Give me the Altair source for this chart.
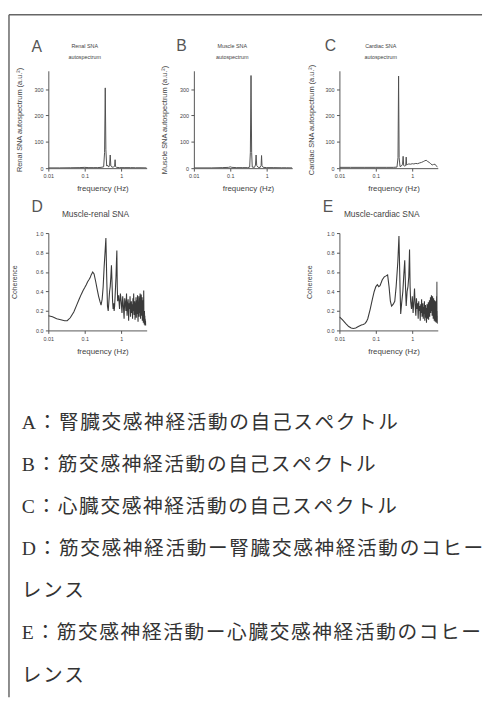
import altair as alt
import pandas as pd

# ---------------- data ----------------
renal_spec = [(0.01, 1), (0.02, 1), (0.04, 1.5), (0.07, 2), (0.1, 3), (0.13, 2), (0.17, 2),
              (0.22, 2), (0.28, 3), (0.33, 5), (0.35, 60), (0.365, 305), (0.38, 70), (0.40, 8),
              (0.42, 12), (0.45, 4), (0.48, 10), (0.50, 50), (0.52, 8), (0.56, 4), (0.62, 4),
              (0.66, 8), (0.68, 32), (0.70, 6), (0.75, 3), (0.9, 2), (1.2, 2), (1.8, 2),
              (2.5, 1.5), (3.5, 1.5), (5.0, 1)]

muscle_spec = [(0.01, 1), (0.03, 1), (0.06, 2), (0.09, 3), (0.1, 5), (0.11, 3), (0.15, 2),
               (0.22, 2), (0.30, 2), (0.34, 4), (0.355, 60), (0.37, 352), (0.385, 60), (0.40, 4),
               (0.46, 3), (0.49, 12), (0.51, 50), (0.53, 10), (0.58, 3), (0.66, 3), (0.70, 10),
               (0.72, 48), (0.74, 10), (0.80, 3), (1.0, 2), (1.5, 2), (2.5, 1.5), (3.5, 1.5), (5.0, 1)]

cardiac_spec = [(0.01, 3), (0.02, 3), (0.05, 3), (0.1, 3), (0.2, 3), (0.3, 3), (0.38, 4),
                (0.405, 40), (0.42, 350), (0.435, 40), (0.46, 6), (0.5, 8), (0.54, 15), (0.56, 45),
                (0.58, 10), (0.62, 8), (0.66, 10), (0.68, 42), (0.70, 12), (0.74, 14), (0.8, 16),
                (0.9, 15), (1.0, 17), (1.1, 16), (1.25, 18), (1.4, 17), (1.6, 20), (1.8, 22),
                (2.0, 25), (2.2, 28), (2.4, 30), (2.6, 26), (2.9, 22), (3.2, 17), (3.5, 12),
                (3.8, 14), (4.2, 15), (4.6, 8), (5.0, 3)]

muscle_renal_coh = [
    (0.01, 0.15), (0.013, 0.14), (0.017, 0.12), (0.022, 0.11), (0.028, 0.10), (0.033, 0.10),
    (0.04, 0.13), (0.05, 0.19), (0.06, 0.26), (0.07, 0.32), (0.08, 0.37), (0.09, 0.41),
    (0.10, 0.44), (0.11, 0.47), (0.12, 0.50), (0.13, 0.52), (0.14, 0.54), (0.15, 0.57),
    (0.165, 0.60), (0.18, 0.58), (0.20, 0.50), (0.22, 0.42), (0.24, 0.35), (0.26, 0.30),
    (0.28, 0.26), (0.30, 0.32), (0.32, 0.45), (0.34, 0.65), (0.36, 0.80), (0.38, 0.95),
    (0.40, 0.55), (0.42, 0.25), (0.44, 0.20), (0.46, 0.30), (0.48, 0.40), (0.50, 0.45),
    (0.52, 0.55), (0.54, 0.67), (0.56, 0.50), (0.58, 0.30), (0.60, 0.22), (0.62, 0.28),
    (0.64, 0.20), (0.66, 0.25), (0.68, 0.35), (0.70, 0.45), (0.72, 0.55), (0.74, 0.70),
    (0.76, 0.82), (0.78, 0.45),
    (0.80, 0.30), (0.85, 0.36), (0.90, 0.22), (0.95, 0.38), (1.00, 0.30), (1.05, 0.18),
    (1.10, 0.35), (1.15, 0.25), (1.20, 0.12), (1.25, 0.33), (1.30, 0.28), (1.35, 0.20),
    (1.40, 0.38), (1.45, 0.15), (1.50, 0.26), (1.55, 0.32), (1.60, 0.10), (1.65, 0.28),
    (1.70, 0.22), (1.75, 0.35), (1.80, 0.14), (1.85, 0.25), (1.90, 0.30), (1.95, 0.18),
    (2.00, 0.27), (2.05, 0.12), (2.10, 0.33), (2.15, 0.20), (2.20, 0.38), (2.25, 0.16),
    (2.30, 0.24), (2.35, 0.30), (2.40, 0.11), (2.45, 0.28), (2.50, 0.19), (2.55, 0.34),
    (2.60, 0.13), (2.65, 0.26), (2.70, 0.31), (2.75, 0.17), (2.80, 0.36), (2.85, 0.21),
    (2.90, 0.09), (2.95, 0.29), (3.00, 0.24), (3.05, 0.35), (3.10, 0.14), (3.15, 0.27),
    (3.20, 0.33), (3.25, 0.18), (3.30, 0.38), (3.35, 0.22), (3.40, 0.12), (3.45, 0.30),
    (3.50, 0.25), (3.55, 0.37), (3.60, 0.15), (3.65, 0.28), (3.70, 0.20), (3.75, 0.34),
    (3.80, 0.10), (3.85, 0.26), (3.90, 0.31), (3.95, 0.16), (4.00, 0.24), (4.05, 0.08),
    (4.10, 0.22), (4.15, 0.41), (4.20, 0.12), (4.25, 0.18), (4.30, 0.06), (4.35, 0.20),
    (4.40, 0.10), (4.45, 0.15), (4.50, 0.05), (4.55, 0.12), (4.60, 0.07), (4.65, 0.10),
    (4.70, 0.05)]

muscle_cardiac_coh = [
    (0.01, 0.14), (0.012, 0.11), (0.015, 0.07), (0.018, 0.04), (0.021, 0.025), (0.024, 0.02),
    (0.028, 0.025), (0.033, 0.04), (0.04, 0.055), (0.045, 0.06), (0.05, 0.07), (0.055, 0.09),
    (0.06, 0.12), (0.07, 0.22), (0.08, 0.32), (0.09, 0.40), (0.10, 0.45), (0.11, 0.47),
    (0.12, 0.45), (0.13, 0.46), (0.15, 0.52), (0.17, 0.55), (0.19, 0.56), (0.21, 0.57),
    (0.23, 0.45), (0.25, 0.30), (0.27, 0.25), (0.30, 0.27), (0.33, 0.30), (0.36, 0.45),
    (0.40, 0.70), (0.43, 0.97), (0.46, 0.45), (0.48, 0.17), (0.51, 0.28), (0.55, 0.40),
    (0.58, 0.55), (0.62, 0.72), (0.65, 0.45), (0.68, 0.25), (0.72, 0.40), (0.76, 0.45),
    (0.80, 0.55), (0.84, 0.83), (0.87, 0.45),
    (0.90, 0.30), (0.95, 0.22), (1.00, 0.35), (1.05, 0.18), (1.10, 0.30), (1.15, 0.43),
    (1.20, 0.25), (1.25, 0.15), (1.30, 0.33), (1.35, 0.22), (1.40, 0.28), (1.45, 0.12),
    (1.50, 0.30), (1.55, 0.20), (1.60, 0.25), (1.65, 0.10), (1.70, 0.27), (1.75, 0.18),
    (1.80, 0.32), (1.85, 0.14), (1.90, 0.22), (1.95, 0.28), (2.00, 0.12), (2.05, 0.24),
    (2.10, 0.17), (2.15, 0.30), (2.20, 0.10), (2.25, 0.21), (2.30, 0.26), (2.35, 0.13),
    (2.40, 0.23), (2.45, 0.08), (2.50, 0.20), (2.55, 0.27), (2.60, 0.12), (2.65, 0.22),
    (2.70, 0.16), (2.75, 0.29), (2.80, 0.11), (2.85, 0.24), (2.90, 0.19), (2.95, 0.31),
    (3.00, 0.14), (3.05, 0.27), (3.10, 0.22), (3.15, 0.34), (3.20, 0.18), (3.25, 0.30),
    (3.30, 0.25), (3.35, 0.36), (3.40, 0.20), (3.45, 0.32), (3.50, 0.15), (3.55, 0.28),
    (3.60, 0.35), (3.65, 0.19), (3.70, 0.30), (3.75, 0.12), (3.80, 0.26), (3.85, 0.33),
    (3.90, 0.17), (3.95, 0.29), (4.00, 0.10), (4.05, 0.24), (4.10, 0.31), (4.15, 0.14),
    (4.20, 0.27), (4.25, 0.09), (4.30, 0.22), (4.35, 0.30), (4.40, 0.12), (4.45, 0.20),
    (4.50, 0.26), (4.55, 0.08), (4.60, 0.18), (4.65, 0.35), (4.70, 0.14), (4.75, 0.50),
    (4.80, 0.12), (4.85, 0.20), (4.90, 0.07), (4.95, 0.15), (5.00, 0.10)]

freq_ticks = [0.01, 0.1, 1]
spec_ticks = [0, 100, 200, 300]
coh_ticks = [0.0, 0.2, 0.4, 0.6, 0.8, 1.0]

caption_lines = [
    "A：腎臓交感神経活動の自己スペクトル",
    "B：筋交感神経活動の自己スペクトル",
    "C：心臓交感神経活動の自己スペクトル",
    "D：筋交感神経活動ー腎臓交感神経活動のコヒー",
    "レンス",
    "E：筋交感神経活動ー心臓交感神経活動のコヒー",
    "レンス",
]

# ---------------- style ----------------
FONT = "Liberation Sans"
LINE = "#505050"
INK = "#444444"
W, H = 100, 99


def x_enc():
    return alt.X("f:Q", scale=alt.Scale(type="log", domain=[0.01, 5]),
                 axis=alt.Axis(values=freq_ticks, format="~g", title="frequency (Hz)",
                               titleX=55, titleY=17, titleBaseline="top", titleFontSize=8,
                               labelFlush=False, labelOverlap=False, labelPadding=3))


def annot(letter, title, lx, ly, tx, ty, tsize, lh):
    lab = alt.Chart(pd.DataFrame({"t": [letter]})).mark_text(
        align="left", baseline="alphabetic", fontSize=16, font=FONT, color="#555"
    ).encode(text="t:N", x=alt.value(lx), y=alt.value(ly))
    ttl = alt.Chart(pd.DataFrame({"t": [title]})).mark_text(
        align="center", baseline="alphabetic", fontSize=tsize, font=FONT, color=INK,
        lineBreak="\n", lineHeight=lh
    ).encode(text="t:N", x=alt.value(tx), y=alt.value(ty))
    return [lab, ttl]


def spectrum(series, letter, title, ytitle, lx, ly, tx, ytx, extra=()):
    df = pd.DataFrame(series, columns=["f", "v"])
    line = alt.Chart(df).mark_line(color=LINE, strokeWidth=1, clip=True).encode(
        x=x_enc(),
        y=alt.Y("v:Q", scale=alt.Scale(domain=[0, 370]),
                axis=alt.Axis(values=spec_ticks, title=ytitle, titleX=ytx,
                              titleBaseline="middle", titleFontSize=7.5)),
    )
    return alt.layer(line, *annot(letter, title, lx, ly, tx, -23, 5.5, 11.5), *extra).properties(width=W, height=H)


def coherence(series, letter, title, lx, ly, tx, ytx):
    df = pd.DataFrame(series, columns=["f", "v"])
    line = alt.Chart(df).mark_line(color="#3a3a3a", strokeWidth=1.1, clip=True).encode(
        x=x_enc(),
        y=alt.Y("v:Q", scale=alt.Scale(domain=[0, 1]),
                axis=alt.Axis(values=coh_ticks, format=".1f", title="Coherence", titleX=ytx,
                              titleBaseline="middle", titleFontSize=7)),
    )
    return alt.layer(line, *annot(letter, title, lx, ly, tx, -16, 8.5, 10)).properties(width=W, height=H)


# page frame (drawn from panel A's corner)
one = pd.DataFrame({"a": [0]})
frame_top = alt.Chart(one).mark_rule(color="#666", strokeWidth=1.5).encode(
    x=alt.value(-40), x2=alt.value(441), y=alt.value(-57))
frame_left = alt.Chart(one).mark_rule(color="#666", strokeWidth=1.5).encode(
    x=alt.value(-40), y=alt.value(-57), y2=alt.value(637))

pA = spectrum(renal_spec, "A", "Renal SNA\nautospectrum", "Renal SNA autospectrum (a.u.²)",
              -17, -19, 37, -29, extra=(frame_top, frame_left))
pB = spectrum(muscle_spec, "B", "Muscle SNA\nautospectrum", "Muscle SNA autospectrum (a.u.²)", -18, -20, 39, -30)
pC = spectrum(cardiac_spec, "C", "Cardiac SNA\nautospectrum", "Cardiac SNA autospectrum (a.u.²)", -15, -20, 42, -28)
pD = coherence(muscle_renal_coh, "D", "Muscle-renal SNA", -17, -21, 48, -34)
pE = coherence(muscle_cardiac_coh, "E", "Muscle-cardiac SNA", -17, -21, 43, -30)

blank = alt.Chart(pd.DataFrame({"t": [""]})).mark_text().encode(text="t:N").properties(width=W, height=H)

# typeset with a hair space between characters (letter-spacing of the printed page)
HAIR = "\u200a"
cap_df = pd.DataFrame({"i": list(range(len(caption_lines))),
                       "t": [HAIR.join(s) for s in caption_lines]})
cap = alt.Chart(cap_df).mark_text(
    align="left", baseline="middle", fontSize=20, color="#333333",
    font="Liberation Serif, Noto Sans CJK JP", dx=-27
).encode(
    x=alt.value(0),
    y=alt.Y("i:Q", scale=alt.Scale(domain=[0, 6], range=[28, 285]), axis=None),
    text="t:N",
)
pT = cap.properties(width=W, height=280)

chart = alt.concat(
    pA, pB, pC, pD, blank, pE, pT,
    columns=3, spacing={"row": 66, "column": 48}, bounds="flush", align="each",
).properties(
    padding={"left": 0, "top": 0, "right": 0, "bottom": 0}, background="white"
).configure_view(stroke=None).configure_axis(
    domainColor="#555", domainWidth=1, tickColor="#555", tickSize=3, tickWidth=1,
    labelColor=INK, labelFont=FONT, labelFontSize=5.5, labelPadding=2.5,
    titleFont=FONT, titleFontWeight="normal", titleColor=INK, grid=False,
)

chart.save("out.html", embed_options={"renderer": "svg", "actions": False})
